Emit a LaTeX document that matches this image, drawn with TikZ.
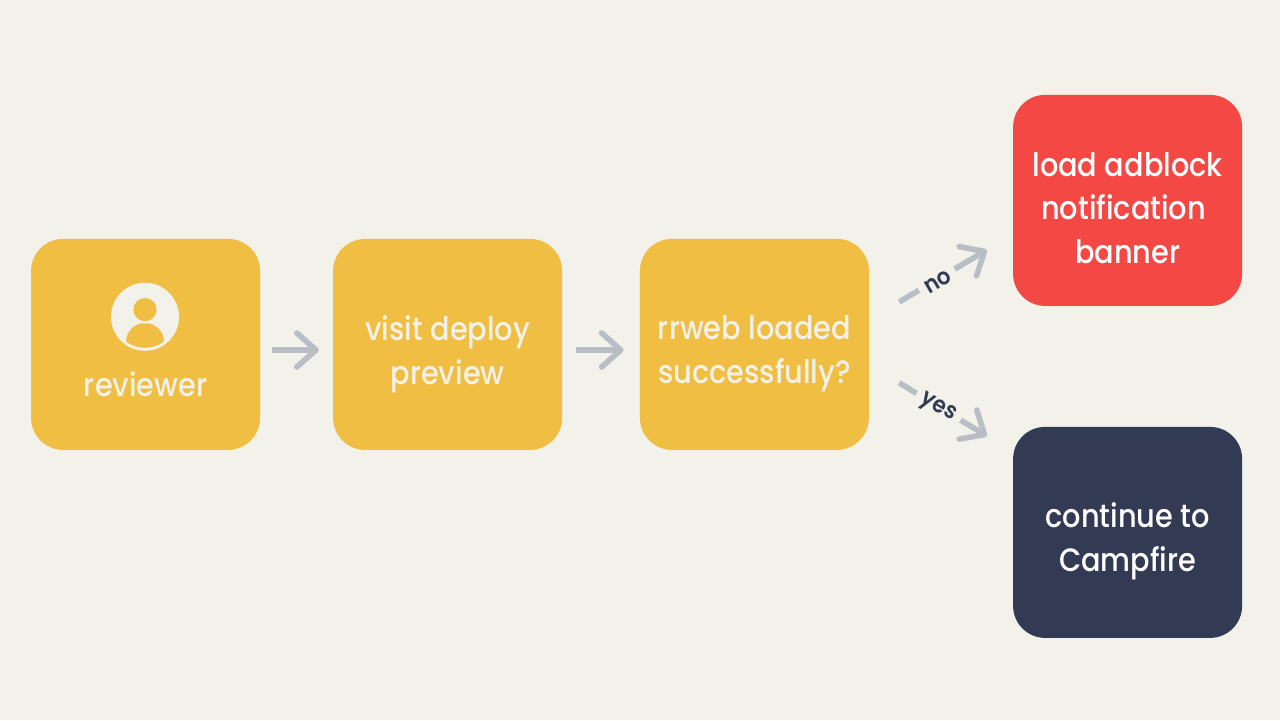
\documentclass[tikz,border=0pt]{standalone}
\usepackage{fontspec}
\setmainfont{Poppins}[UprightFont=* Medium, FakeStretch=0.89]
\newfontfamily\answerfont{Poppins}[UprightFont=* SemiBold, FakeStretch=0.92]
\usepackage{tikz}
\usetikzlibrary{arrows.meta}
\definecolor{paper}{HTML}{F2F1EA}
\definecolor{sand}{HTML}{F0BE43}
\definecolor{alarm}{HTML}{F44845}
\definecolor{slate}{HTML}{323B53}
\definecolor{flow}{HTML}{B8BDC6}
\tikzset{
  card/.style={rounded corners=.8cm, minimum width=5.725cm, minimum height=5.275cm, inner sep=0pt},
  cardtext/.style={align=center, font=\fontsize{23}{31}\selectfont},
  flowline/.style={flow, line width=.14cm, -{Straight Barb[length=.48cm, width=.85cm, round, line width=.14cm]}},
  answer/.style={fill=paper, text=slate, sloped, inner xsep=.17cm, inner ysep=0pt, font=\answerfont\fontsize{16.5}{20}\selectfont}
}
\begin{document}
\begin{tikzpicture}
  \fill[paper] (0,0) rectangle (32,18);
  \useasboundingbox (0,0) rectangle (32,18);

  \node[card, fill=sand]  (reviewer) at (3.64,9.39) {};
  \node[card, fill=sand]  (visit)    at (11.19,9.39) {};
  \node[card, fill=sand]  (check)    at (18.86,9.39) {};
  \node[card, fill=alarm] (banner)   at (28.19,12.99) {};
  \node[card, fill=slate] (campfire) at (28.19,4.69) {};

  \node[cardtext, text=paper] (reviewerlabel) at (3.64,8.4) {reviewer};
  \node[cardtext, text=paper] (visitlabel)    at (11.19,9.15) {visit deploy\\preview};
  \node[cardtext, text=paper] (checklabel)    at (18.86,9.15) {rrweb loaded\\successfully?};
  \node[cardtext, text=white] (bannerlabel)   at (28.19,12.8) {load adblock\\notification\hspace*{.2cm}\mbox{}\\banner};
  \node[cardtext, text=white] (campfirelabel) at (28.19,4.47) {continue to\\Campfire};

  % person icon
  \fill[paper] (3.625,10.08) circle (.85);
  \begin{scope}
    \clip (3.625,10.08) circle (.775);
    \fill[sand] (3.15,9.2) -- (3.15,9.45) arc (180:0:.475) -- (4.1,9.2) -- cycle;
  \end{scope}
  \fill[paper] (3.625,10.26) circle (.35);
  \fill[sand] (3.625,10.26) circle (.29);

  \draw[flowline] ([shift={(.3,-.14)}]reviewer.east) -- ([shift={(-.35,-.14)}]visit.west);
  \draw[flowline] ([shift={(.35,-.14)}]visit.east) -- ([shift={(-.4,-.14)}]check.west);
  \draw[flowline] ([shift={(.75,1.06)}]check.east) -- ([shift={(-.65,-1.24)}]banner.west)
    node[answer, pos=.43, yshift=-.06cm] (nolabel) {no};
  \draw[flowline] ([shift={(.75,-.96)}]check.east) -- ([shift={(-.65,2.41)}]campfire.west)
    node[answer, pos=.45, yshift=-.04cm] (yeslabel) {yes};
\end{tikzpicture}
\end{document}
